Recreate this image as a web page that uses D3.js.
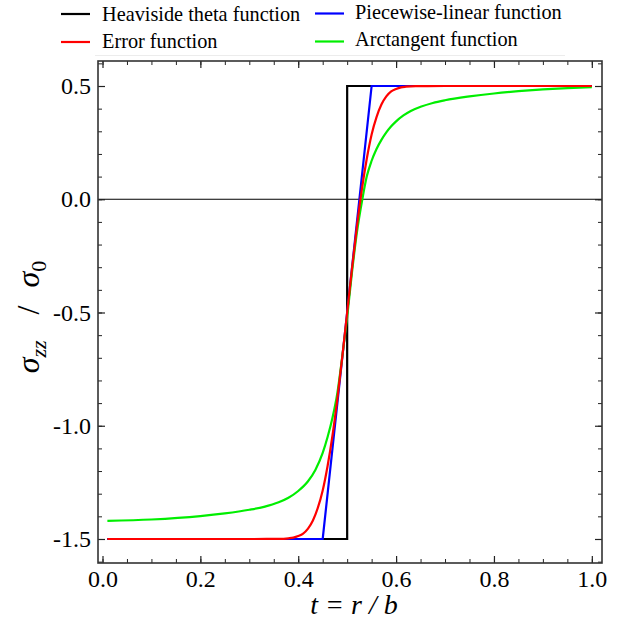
<!DOCTYPE html>
<html><head><meta charset="utf-8">
<script src="https://cdn.jsdelivr.net/npm/d3@7/dist/d3.min.js"></script>
<style>body{margin:0;background:#fff}svg{display:block}</style>
</head><body><svg id="c" width="620" height="625"></svg>
<script>
// ---- data ----
const seriesNames = ["Heaviside theta function","Error function","Piecewise-linear function","Arctangent function"];
const seriesColors = ["#000000","#ff0000","#0000ff","#00ee00"];
const heavisideT = [0.01, 0.5, 0.5, 1.0];
const heavisideV = [-1.5, -1.5, 0.5, 0.5];
const pwT = [0.01, 0.45, 0.55, 1.0];
const pwV = [-1.5, -1.5, 0.5, 0.5];
const erfT = [0.01,0.3,0.36,0.38,0.39,0.40,0.41,0.42,0.43,0.44,0.45,0.46,0.47,0.48,0.49,0.50,0.51,0.52,0.53,0.54,0.55,0.56,0.57,0.58,0.59,0.60,0.61,0.62,0.64,0.7,1.0];
const erfV = [-1.5,-1.5,-1.4995,-1.497,-1.494,-1.487,-1.476,-1.454,-1.418,-1.363,-1.286,-1.178,-1.043,-0.88,-0.696,-0.5,-0.304,-0.12,0.043,0.178,0.286,0.363,0.418,0.454,0.476,0.487,0.494,0.497,0.4995,0.5,0.5];
const atanT = [0.01,0.1,0.2,0.25,0.3,0.33,0.36,0.38,0.4,0.42,0.435,0.45,0.46,0.47,0.48,0.49,0.5,0.51,0.52,0.531,0.54,0.55,0.56,0.57,0.58,0.59,0.6,0.615,0.63,0.65,0.675,0.7,0.75,0.8,0.85,0.9,0.95,1.0];
const atanV = [-1.42,-1.414,-1.399,-1.387,-1.371,-1.358,-1.338,-1.318,-1.288,-1.245,-1.195,-1.12,-1.05,-0.965,-0.855,-0.695,-0.52,-0.32,-0.145,0,0.1,0.17,0.222,0.262,0.295,0.322,0.344,0.37,0.39,0.408,0.425,0.437,0.454,0.467,0.477,0.485,0.491,0.495];
const xTicks = [0.0,0.2,0.4,0.6,0.8,1.0];
const yTicks = [-1.5,-1.0,-0.5,0.0,0.5];

// ---- layout ----
const L=98,R=602,T=61,B=563;
const svg=d3.select("#c");
const x=d3.scaleLinear().domain([-0.0092,1.0208]).range([L,R]);
const y=d3.scaleLinear().domain([-1.606,0.6104]).range([B,T]);
const font="'Liberation Serif','Times New Roman',serif";

// zero line
svg.append("line").attr("x1",L).attr("x2",R).attr("y1",y(0)).attr("y2",y(0)).attr("stroke","#000").attr("stroke-width",1);

// curves
const line=d3.line().x(d=>x(d[0])).y(d=>y(d[1]));
const smooth=d3.line().x(d=>x(d[0])).y(d=>y(d[1])).curve(d3.curveMonotoneX);
const zip=(a,b)=>a.map((t,i)=>[t,b[i]]);
const g=svg.append("g");
g.append("path").attr("d",line(zip(heavisideT,heavisideV))).attr("fill","none").attr("stroke",seriesColors[0]).attr("stroke-width",2.2);
g.append("path").attr("d",line(zip(pwT,pwV))).attr("fill","none").attr("stroke",seriesColors[2]).attr("stroke-width",2.2);
g.append("path").attr("d",smooth(zip(atanT,atanV))).attr("fill","none").attr("stroke",seriesColors[3]).attr("stroke-width",2.2);
g.append("path").attr("d",smooth(zip(erfT,erfV))).attr("fill","none").attr("stroke",seriesColors[1]).attr("stroke-width",2.2);

// axes with inward ticks
const fmt=v=>d3.format(".1f")(v).replace("\u2212","-");
const xMinor=d3.range(0,1.0001,0.05);
const yMinor=d3.range(-1.6,0.6001,0.1);
function ax(axisFn,scale,major,minor,tr,labels,pad){
  const gM=svg.append("g").attr("transform",tr).call(axisFn(scale).tickValues(minor).tickSize(-4).tickFormat(""));
  gM.select(".domain").remove();
  gM.selectAll("line").attr("stroke","#222").attr("stroke-width",1);
  const gJ=svg.append("g").attr("transform",tr).call(axisFn(scale).tickValues(major).tickSize(-7).tickPadding(labels?pad:0).tickFormat(labels?fmt:""));
  gJ.select(".domain").remove();
  gJ.selectAll("line").attr("stroke","#222").attr("stroke-width",1.2);
  gJ.selectAll("text").attr("font-family",font).attr("font-size",24).attr("fill","#000");
  return gJ;
}
ax(d3.axisBottom,x,xTicks,xMinor,`translate(0,${B})`,true,7);
ax(d3.axisTop,x,xTicks,xMinor,`translate(0,${T})`,false,0);
ax(d3.axisLeft,y,yTicks,yMinor,`translate(${L},0)`,true,7);
ax(d3.axisRight,y,yTicks,yMinor,`translate(${R},0)`,false,0);

// frame
svg.append("rect").attr("x",L).attr("y",T).attr("width",R-L).attr("height",B-T).attr("fill","none").attr("stroke","#333").attr("stroke-width",1.6);

// axis labels
svg.append("text").attr("x",(L+R)/2+4).attr("y",614).attr("text-anchor","middle")
  .attr("font-family",font).attr("font-size",28).attr("font-style","italic")
  .attr("xml:space","preserve").text("t = r / b");
const yl=svg.append("text").attr("transform",`translate(39,317) rotate(-90)`).attr("text-anchor","middle")
  .attr("font-family",font).attr("font-size",32);
yl.append("tspan").attr("font-style","italic").text("σ");
yl.append("tspan").attr("font-style","italic").attr("font-size",22).attr("dy",7).text("zz");
yl.append("tspan").attr("dy",-7).attr("dx",26).text("/");
yl.append("tspan").attr("font-style","italic").attr("dx",18).text("σ");
yl.append("tspan").attr("font-size",22).attr("dy",7).text("0");

// legend
const leg=[{i:0,lx:61,ly:14,tx:102,ty:20.5},{i:1,lx:61,ly:42,tx:102,ty:47.5},{i:2,lx:315,ly:13.5,tx:355,ty:18.5},{i:3,lx:315,ly:41.5,tx:355,ty:45.5}];
leg.forEach(d=>{
  svg.append("line").attr("x1",d.lx).attr("x2",d.lx+29).attr("y1",d.ly).attr("y2",d.ly).attr("stroke",seriesColors[d.i]).attr("stroke-width",2.2);
  svg.append("text").attr("x",d.tx).attr("y",d.ty).attr("font-family",font).attr("font-size",20.3).text(seriesNames[d.i]);
});
svg.append("line").attr("x1",95).attr("x2",565).attr("y1",55.5).attr("y2",55.5).attr("stroke","#ececec").attr("stroke-width",1);
</script></body></html>
